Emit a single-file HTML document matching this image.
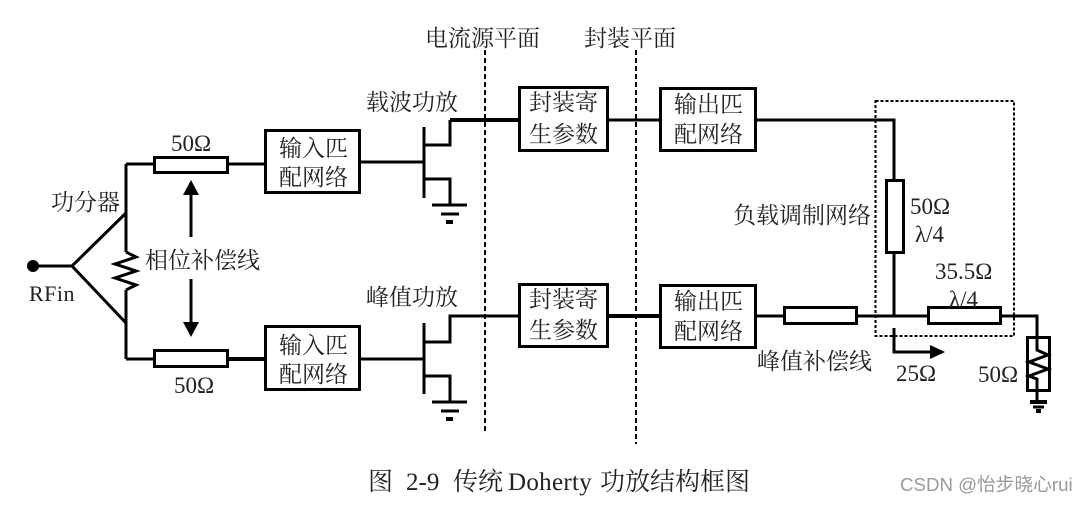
<!DOCTYPE html>
<html><head><meta charset="utf-8">
<style>
html,body{margin:0;padding:0;background:#fff}
svg{display:block}
text{font-family:"Liberation Serif","Noto Serif CJK SC",serif;fill:#222;font-size:23px}
.l{stroke:#000;stroke-width:3;fill:none}
.t{stroke:#000;stroke-width:4;fill:none}
.b{stroke:#000;stroke-width:3;fill:#fff}
.d{stroke:#000;stroke-width:2;fill:none;stroke-dasharray:5 3}
.c{font-size:25px}
</style></head><body>
<svg width="1088" height="505" viewBox="0 0 1088 505" xmlns="http://www.w3.org/2000/svg">
<!-- planes -->
<path class="d" d="M485 50V432M636 50V444"/>
<rect x="875.500" y="101" width="138.500" height="235" fill="none" stroke="#000" stroke-width="2" stroke-dasharray="3 2"/>
<!-- input -->
<circle cx="33" cy="266" r="6" fill="#000"/>
<path class="l" d="M33 266H72L126 213M72 266L126 323M126 164V252M126 290V359M126 164H154M227 164H265M126 359H154"/>
<path class="l" d="M126 252L136 257L115 264L136 271L115 278L136 285L126 290" />
<path class="t" d="M228 359H265"/>
<rect class="b" x="154.500" y="157.500" width="73" height="15"/>
<rect class="b" x="154.500" y="350.500" width="73" height="16"/>
<!-- phase arrows -->
<path class="l" d="M191 237V190M191 279V325"/>
<path d="M183 195L191 180L199 195Z M183 322L191 337L199 322Z" fill="#000"/>
<!-- input boxes -->
<rect class="b" x="265.500" y="130.500" width="94" height="62"/>
<rect class="b" x="265.500" y="326.500" width="94" height="63"/>
<!-- carrier transistor -->
<path class="l" d="M360 162H424M424 127V198M424 145H450V120M424 179H450V205M432 205H467"/>
<path class="t" d="M450 120H519"/>
<path class="l" d="M441 214H459"/>
<path class="t" d="M446 222H453"/>
<!-- peak transistor -->
<path class="l" d="M360 359H424M424 323V394M424 342H450V316H519M424 376H450V402M432 402H467M441 411H459"/>
<path class="t" d="M446 419H453"/>
<!-- package & output boxes -->
<path class="l" d="M607 120H660M755 120H894V180M894 252V316M755 316H784M857 316H928M1001 316H1037V337"/>
<path class="t" d="M607 316H660"/>
<rect class="b" x="519.500" y="87.500" width="88" height="63"/>
<rect class="b" x="519.500" y="284.500" width="88" height="62"/>
<rect class="b" x="660.500" y="88.500" width="95" height="62"/>
<rect class="b" x="660.500" y="285.500" width="95" height="62"/>
<rect class="b" x="886.500" y="180.500" width="17" height="72"/>
<rect class="b" x="784.500" y="307.500" width="72" height="16"/>
<rect class="b" x="928.500" y="307.500" width="72" height="16"/>
<!-- load -->
<rect class="b" x="1027.500" y="337.500" width="22" height="53"/>
<path class="l" d="M1037 337V350L1048 355L1029 362L1048 369L1029 376L1037 379V402"/>
<path class="t" d="M1030 402H1047"/>
<path class="l" d="M1033 407H1044"/>
<path class="t" d="M1036 411H1041"/>
<!-- 25 ohm arrow -->
<path class="l" d="M894 328V352H932"/>
<path d="M930 345L945 352L930 359Z" fill="#000"/>
<!-- labels -->
<text x="425" y="46">电流源平面</text>
<text x="584" y="46">封装平面</text>
<text x="366" y="110">载波功放</text>
<text x="366" y="305">峰值功放</text>
<text x="51" y="210">功分器</text>
<text x="145" y="268">相位补偿线</text>
<text x="29" y="301" style="font-size:22px;letter-spacing:.5px">RFin</text>
<text x="171" y="151">50Ω</text>
<text x="174" y="393">50Ω</text>
<text x="279" y="156">输入匹</text>
<text x="279" y="185">配网络</text>
<text x="279" y="353">输入匹</text>
<text x="279" y="382">配网络</text>
<text x="529" y="110">封装寄</text>
<text x="529" y="142">生参数</text>
<text x="529" y="307">封装寄</text>
<text x="529" y="338">生参数</text>
<text x="674" y="112">输出匹</text>
<text x="674" y="142">配网络</text>
<text x="674" y="309">输出匹</text>
<text x="674" y="339">配网络</text>
<text x="733" y="223">负载调制网络</text>
<text x="757" y="369">峰值补偿线</text>
<text x="910" y="214">50Ω</text>
<text x="915" y="242">λ/4</text>
<text x="935" y="279">35.5Ω</text>
<text x="949" y="307">λ/4</text>
<text x="896" y="381">25Ω</text>
<text x="978" y="382">50Ω</text>
<text class="c" x="368" y="490">图</text>
<text class="c" x="406" y="490">2-9</text>
<text class="c" x="453" y="490">传统</text>
<text class="c" x="508" y="490" style="letter-spacing:.3px">Doherty</text>
<text class="c" x="600" y="490">功放结构框图</text>
<text x="900" y="491" style="font-size:18.700px;fill:#9a9a9a;font-family:'Liberation Sans','Noto Sans CJK SC',sans-serif">CSDN @怡步晓心rui</text>
</svg>
</body></html>
